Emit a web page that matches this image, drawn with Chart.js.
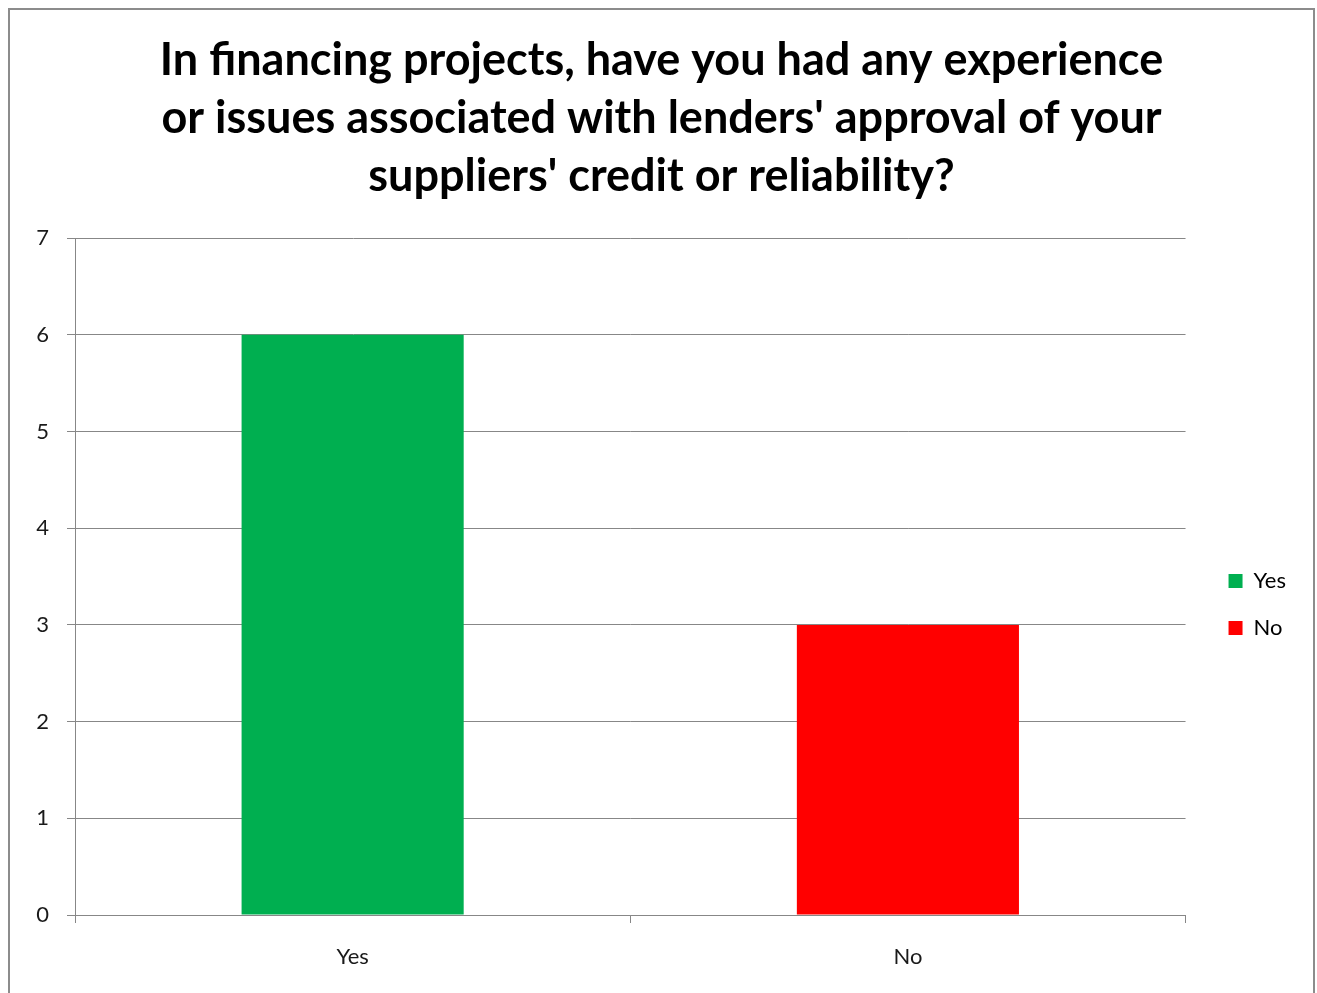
<!DOCTYPE html>
<html>
<head>
<meta charset="utf-8">
<script src="https://cdn.jsdelivr.net/npm/chart.js@4"></script>
<style>
  html, body { margin: 0; padding: 0; background: #fff; overflow: hidden; }
  #frame {
    position: absolute; left: 8px; top: 8px;
    width: 1303px; height: 1168px;
    border: 2px solid #8c8c8c;
  }
</style>
</head>
<body>
<div id="frame"><canvas id="myChart" width="1303" height="1168"></canvas></div>
<script>
const ctx = document.getElementById('myChart');

var categories = ["Yes", "No"];
var answers = [6, 3];
var barColors = ["#00af50", "#ff0000"];
var yTicks = [0, 1, 2, 3, 4, 5, 6, 7];
var titleLines = [
    "In financing projects, have you had any experience",
    "or issues associated with lenders' approval of your",
    "suppliers' credit or reliability?"
];

var fontName = "Lato, 'Open Sans', sans-serif";
var gridColor = "#878787";
var plotBottom = 905;

const chart = new Chart(ctx, {
    type: 'bar',
    data: {
        labels: categories,
        datasets: [{
            data: answers,
            backgroundColor: barColors,
            borderWidth: 0,
            categoryPercentage: 1,
            barPercentage: 0.4
        }]
    },
    options: {
        responsive: false,
        animation: false,
        layout: {
            padding: { left: 17, top: 21, right: 17, bottom: 0 }
        },
        scales: {
            x: {
                grid: {
                    display: true,
                    offset: true,
                    drawOnChartArea: false,
                    color: gridColor,
                    tickLength: 8
                },
                border: { color: gridColor },
                ticks: {
                    color: "#1a1a1a",
                    padding: 21,
                    font: { family: fontName, size: 22 }
                },
                afterFit: function (scale) {
                    scale.height = ctx.height - plotBottom;
                }
            },
            y: {
                min: 0,
                max: 7,
                afterBuildTicks: function (scale) {
                    scale.ticks = yTicks.map(function (v) { return { value: v }; });
                },
                grid: {
                    color: gridColor,
                    tickLength: 8
                },
                border: { color: gridColor },
                ticks: {
                    color: "#1a1a1a",
                    padding: 18,
                    font: { family: fontName, size: 22 }
                },
                afterFit: function (scale) {
                    scale.width = 48;
                }
            },
            // empty strip between the plot and the legend
            gap: {
                type: 'linear',
                axis: 'y',
                position: 'right',
                display: true,
                grid: { display: false },
                border: { display: false },
                ticks: { display: false },
                afterFit: function (scale) {
                    scale.width = 18;
                }
            }
        },
        plugins: {
            title: {
                display: true,
                text: titleLines,
                color: "#000",
                font: { family: fontName, size: 45, weight: 'bold', lineHeight: 1.29 },
                padding: { top: 0, bottom: 33 }
            },
            legend: {
                display: true,
                position: 'right',
                labels: {
                    color: "#1a1a1a",
                    boxWidth: 14,
                    boxHeight: 14,
                    padding: 25,
                    font: { family: fontName, size: 22 },
                    generateLabels: function (c) {
                        return categories.map(function (name, i) {
                            return {
                                text: name,
                                fillStyle: barColors[i],
                                strokeStyle: barColors[i],
                                lineWidth: 0,
                                index: i
                            };
                        });
                    }
                }
            },
            tooltip: { enabled: false }
        }
    }
});
</script>
</body>
</html>
